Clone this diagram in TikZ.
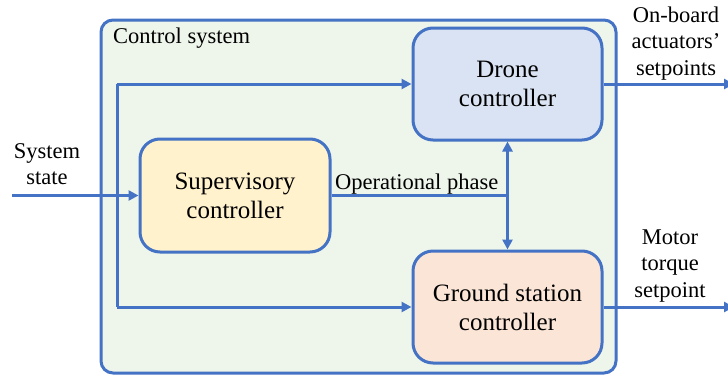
\documentclass[tikz,border=0pt]{standalone}
\usepackage{fontspec}
\setmainfont{Liberation Serif}
\usetikzlibrary{arrows.meta}
\definecolor{lineblue}{HTML}{4472C4}
\definecolor{outerfill}{HTML}{EEF5EA}
\definecolor{dronefill}{HTML}{DAE3F3}
\definecolor{supfill}{HTML}{FFF2CC}
\definecolor{groundfill}{HTML}{FBE5D6}
\tikzset{
  outerbox/.style={draw=lineblue, line width=3pt, fill=outerfill, rounded corners=12pt,
    minimum width=515pt, minimum height=353pt, inner sep=0pt},
  ctrlbox/.style={draw=lineblue, line width=3pt, rounded corners=20pt,
    minimum width=189pt, minimum height=112pt, align=center, inner sep=0pt,
    font=\fontsize{25}{29}\selectfont},
  lbl/.style={align=center, inner sep=0pt, font=\fontsize{22.5}{26.5}\selectfont},
  conn/.style={draw=lineblue, line width=3pt},
  arr/.style={conn, -{Triangle[length=10pt,width=10pt]}},
  darr/.style={conn, {Triangle[length=10pt,width=10pt]}-{Triangle[length=10pt,width=10pt]}}
}
\begin{document}
\begin{tikzpicture}[x=1pt,y=-1pt]
\useasboundingbox (0,0) rectangle (728,378);
\node[outerbox] (cs) at (358.5,196.5) {};
\node[lbl, anchor=base west] (cstitle) at (113,43) {Control system};
\node[ctrlbox, fill=dronefill] (drone) at (507.5,84) {Drone\\controller};
\node[ctrlbox, fill=groundfill] (ground) at (507.5,307) {Ground station\\controller};
\node[ctrlbox, fill=supfill, minimum width=190pt, minimum height=113pt] (sup) at (235,195.5) {Supervisory\\controller};
\node[lbl] (ss) at (47,164) {System\\state};
\node[lbl] (ob) at (676,43.5) {On-board\\actuators'\\setpoints};
\node[lbl] (mt) at (670,266) {Motor\\torque\\setpoint};
\coordinate (in) at (12,195.5);
\coordinate (jt) at (117,195.5);
\coordinate (ph) at (507.5,195.5);
\coordinate (out1) at (734,84);
\coordinate (out2) at (734,307);
\draw[arr] (in) -- (sup.west);
\draw[conn] (jt |- drone.west) -- (jt |- ground.west);
\draw[arr] (jt |- drone.west) -- (drone.west);
\draw[arr] (jt |- ground.west) -- (ground.west);
\draw[conn] (sup.east) -- (ph);
\node[lbl, anchor=base west] (op) at (335,189) {Operational phase};
\draw[darr] (drone.south) -- (ground.north);
\draw[arr] (drone.east) -- (out1);
\draw[arr] (ground.east) -- (out2);
\end{tikzpicture}
\end{document}
